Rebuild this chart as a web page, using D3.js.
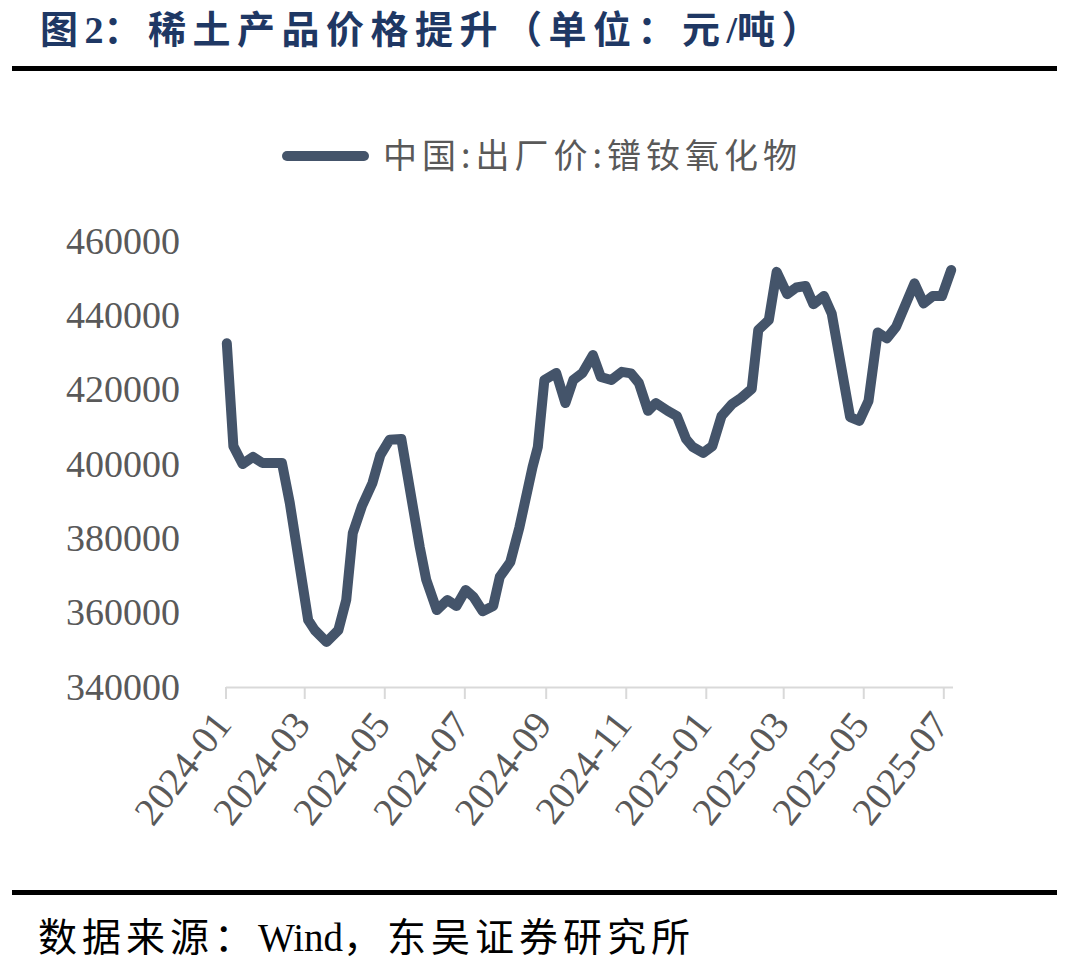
<!DOCTYPE html>
<html>
<head>
<meta charset="utf-8">
<script src="https://cdn.jsdelivr.net/npm/d3@7"></script>
<style>
  html, body { margin: 0; padding: 0; background: #ffffff; }
  svg { display: block; }
</style>
</head>
<body>
<svg id="chart" width="1080" height="962"></svg>
<script>
// ---- data ----
const titleParts = ["图", "2", "：稀土产品价格提升（单位：元", "/", "吨）"];
const sourceParts = ["数据来源：", "Wind", "，东吴证券研究所"];
const seriesName = "中国:出厂价:镨钕氧化物";
const yTicks = [340000, 360000, 380000, 400000, 420000, 440000, 460000];
const dates = [
  "2024-01-02","2024-01-07","2024-01-14","2024-01-22","2024-01-29","2024-02-13","2024-02-19",
  "2024-03-04","2024-03-09","2024-03-18","2024-03-27","2024-04-02","2024-04-07","2024-04-14",
  "2024-04-22","2024-04-28","2024-05-05","2024-05-14","2024-05-28","2024-06-02","2024-06-10",
  "2024-06-18","2024-06-25","2024-07-02","2024-07-08","2024-07-15","2024-07-23","2024-07-28",
  "2024-08-05","2024-08-12","2024-08-22","2024-08-26","2024-08-31","2024-09-09","2024-09-16",
  "2024-09-22","2024-09-29","2024-10-07","2024-10-13","2024-10-21","2024-10-29","2024-11-05",
  "2024-11-11","2024-11-18","2024-11-24","2024-12-03","2024-12-10","2024-12-17","2024-12-22",
  "2024-12-30","2025-01-06","2025-01-13","2025-01-21","2025-01-28","2025-02-05","2025-02-10",
  "2025-02-18","2025-02-24","2025-03-04","2025-03-11","2025-03-18","2025-03-24","2025-04-01",
  "2025-04-07","2025-04-21","2025-04-28","2025-05-05","2025-05-12","2025-05-19","2025-05-26",
  "2025-06-09","2025-06-16","2025-06-23","2025-06-30","2025-07-07"
];
const prices = [
  432500, 404800, 400000, 401900, 400300, 400300, 389500,
  358000, 355300, 352100, 355300, 363400, 381400, 388700,
  394900, 402400, 406500, 406700, 377700, 368800, 360700,
  363400, 361800, 366100, 364200, 360400, 361800, 369600,
  373600, 383000, 399200, 404600, 422600, 424500, 416400,
  422600, 424500, 429300, 423400, 422600, 424800, 424400,
  421800, 414300, 416400, 414300, 412900, 406700, 404600,
  403000, 404800, 412900, 416100, 417800, 420200, 436100,
  438700, 451700, 445700, 447500, 447900, 443000, 445200,
  440400, 412600, 411600, 417000, 435400, 433800, 436900,
  448600, 443200, 445200, 445200, 452200
];

// ---- drawing ----
const parse = d3.timeParse("%Y-%m-%d");
const data = dates.map((d, i) => ({ date: parse(d), value: prices[i] }));

const svg = d3.select("#chart");
const lineColor = "#44546A";
const labelColor = "#595959";
const serif = "'Liberation Serif', 'Times New Roman', 'Noto Sans CJK SC', serif";
const isLatin = s => /^[A-Za-z0-9\/]+$/.test(s);

// Title
const title = svg.append("text")
  .attr("x", 40).attr("y", 43)
  .attr("font-family", "'Liberation Serif', 'Noto Sans CJK SC', serif")
  .attr("font-weight", "bold")
  .attr("font-size", 38)
  .attr("fill", "#1F3864");
title.selectAll("tspan").data(titleParts).join("tspan")
  .attr("letter-spacing", d => isLatin(d) ? 0 : 6.5)
  .text(d => d);

// Rules
svg.append("rect").attr("x", 12).attr("y", 66).attr("width", 1045).attr("height", 5).attr("fill", "#000");
svg.append("rect").attr("x", 12).attr("y", 890).attr("width", 1045).attr("height", 5).attr("fill", "#000");

// Source
const src = svg.append("text")
  .attr("x", 38).attr("y", 951)
  .attr("font-family", "'Liberation Serif', 'Noto Sans CJK SC', serif")
  .attr("font-size", 39)
  .attr("fill", "#000");
src.selectAll("tspan").data(sourceParts).join("tspan")
  .attr("letter-spacing", d => isLatin(d) ? 0 : 5)
  .text(d => d);

// Scales
const x = d3.scaleTime()
  .domain([parse("2024-01-01"), parse("2025-07-08")])
  .range([225.5, 952.5]);
const y = d3.scaleLinear()
  .domain([340000, 460000])
  .range([687, 241]);

// X axis
const xAxis = d3.axisBottom(x)
  .ticks(d3.timeMonth.every(2))
  .tickFormat(d3.timeFormat("%Y-%m"))
  .tickSizeInner(12)
  .tickSizeOuter(0);
const gx = svg.append("g").attr("transform", "translate(0,687)").call(xAxis);
gx.select(".domain").attr("stroke", "#D9D9D9").attr("stroke-width", 2);
gx.selectAll(".tick line").attr("stroke", "#D9D9D9").attr("stroke-width", 2);
gx.selectAll(".tick text")
  .attr("font-family", serif)
  .attr("font-size", 39)
  .attr("fill", labelColor)
  .attr("text-anchor", "end")
  .attr("y", 0).attr("dy", 0)
  .attr("transform", "translate(7,38) rotate(-52)");

// Y axis (labels only)
const yAxis = d3.axisLeft(y).tickValues(yTicks).tickFormat(d3.format("d")).tickSize(0).tickPadding(46);
const gy = svg.append("g").attr("transform", "translate(226,0)").call(yAxis);
gy.select(".domain").remove();
gy.selectAll(".tick text")
  .attr("font-family", serif)
  .attr("font-size", 38)
  .attr("fill", labelColor);

// Line
const line = d3.line().x(d => x(d.date)).y(d => y(d.value));
svg.append("path")
  .datum(data)
  .attr("d", line)
  .attr("fill", "none")
  .attr("stroke", lineColor)
  .attr("stroke-width", 10)
  .attr("stroke-linejoin", "round")
  .attr("stroke-linecap", "round");

// Legend
const lg = svg.append("g");
lg.append("line")
  .attr("x1", 287).attr("x2", 364).attr("y1", 156).attr("y2", 156)
  .attr("stroke", lineColor).attr("stroke-width", 10).attr("stroke-linecap", "round");
lg.append("text")
  .attr("x", 383).attr("y", 168)
  .attr("font-family", "'Noto Sans CJK SC', sans-serif")
  .attr("font-size", 34)
  .attr("letter-spacing", 5)
  .attr("fill", labelColor)
  .text(seriesName);
</script>
</body>
</html>
